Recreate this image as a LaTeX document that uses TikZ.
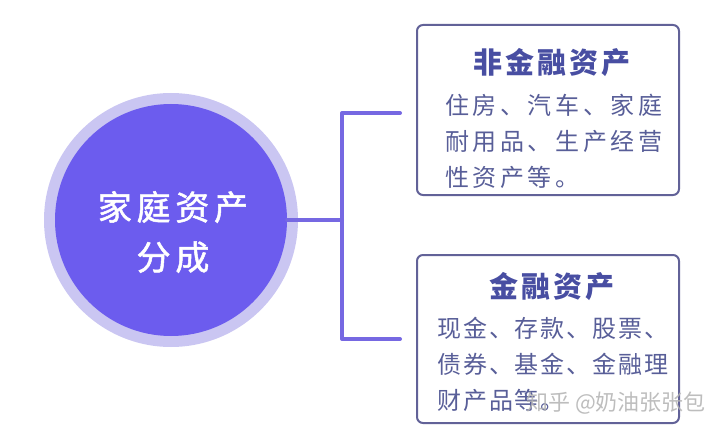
\documentclass[tikz,border=0pt]{standalone}
\usepackage{fontspec}
\newfontfamily\cjk{Noto Sans CJK SC}
\usetikzlibrary{positioning}
\definecolor{hubfill}{RGB}{108,92,238}
\definecolor{hubring}{RGB}{202,198,242}
\definecolor{linkcol}{RGB}{118,104,226}
\definecolor{boxcol}{RGB}{98,98,152}
\definecolor{titlecol}{RGB}{72,78,162}
\definecolor{bodycol}{RGB}{88,94,152}
\tikzset{every picture/.style={x=1pt,y=-1pt},
link/.style={draw=linkcol,line width=4pt,line join=round,line cap=round},
assetbox/.style={draw=boxcol,line width=2pt,rounded corners=6pt,minimum width=262pt,minimum height=170pt},
boxtitle/.style={text=titlecol,inner sep=0pt,font=\cjk\bfseries\fontsize{29}{34}\selectfont\addfontfeature{LetterSpace=10}},
boxtext/.style={text=bodycol,anchor=west,inner sep=0pt,font=\cjk\fontsize{24}{30}\selectfont\addfontfeature{LetterSpace=#1}}}

\begin{document}
\begin{tikzpicture}
\useasboundingbox (0,0) rectangle (720,433);
% centre circle
\node (ring) at (171,220) [circle,fill=hubring,minimum size=254pt,inner sep=0pt] {};
\node (hub) at (171,220) [circle,fill=hubfill,minimum size=232pt,inner sep=0pt] {};
\node (hubtext) at (173,232) [text=white,align=center,font=\cjk\fontsize{34}{50}\selectfont\addfontfeature{LetterSpace=14,FakeBold=1.5}] {家庭资产\\分成};
% the two boxes
\node (nonfin) at (548,110) [assetbox] {};
\node (fin) at (548,339) [assetbox,minimum height=168pt] {};
\node (nonfintitle) at (552,63) [boxtitle] {非金融资产};
\node (fintitle) at (552,287) [boxtitle] {金融资产};
\foreach \t [count=\i] in {住房、汽车、家庭, 耐用品、生产经营, 性资产等。}
\node (nonfin\i) at (445,{105+36*(\i-1)}) [boxtext=15] {\t};
\foreach \t [count=\i] in {现金、存款、股票、, 债券、基金、金融理, 财产品等。}
\node (fin\i) at (437,{328+36*(\i-1)}) [boxtext=8] {\t};
% connectors
\coordinate (fork) at (342,220);
\coordinate (up) at (342,113);
\coordinate (down) at (342,339);
\coordinate (upend) at (400,113);
\coordinate (downend) at (400,339);
\draw[link] (hub.east) -- (fork);
\draw[link] (upend) -- (up) -- (down) -- (downend);
\node (mark) at (526,403) [anchor=west,inner sep=0pt,text=gray!60,opacity=0.85,font=\cjk\fontsize{22}{26}\selectfont] {知乎 @奶油张张包};
\end{tikzpicture}
\end{document}
